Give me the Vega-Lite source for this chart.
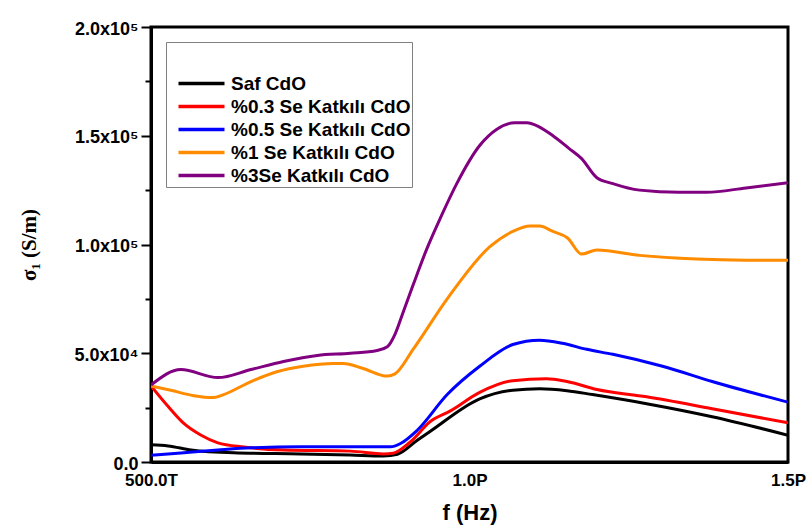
{
  "$schema": "https://vega.github.io/schema/vega-lite/v6.json",
  "width": 637,
  "height": 435,
  "autosize": "none",
  "padding": {"left": 151, "top": 27, "right": 22, "bottom": 68},
  "background": "white",
  "config": {
    "view": {"stroke": "black", "strokeWidth": 3},
    "font": "Liberation Sans"
  },
  "data": {
    "values": [
      {"s": "Saf CdO", "f": 500, "v": 7900},
      {"s": "Saf CdO", "f": 527, "v": 7400},
      {"s": "Saf CdO", "f": 563, "v": 5500},
      {"s": "Saf CdO", "f": 630, "v": 4200},
      {"s": "Saf CdO", "f": 735, "v": 3700},
      {"s": "Saf CdO", "f": 813, "v": 3200},
      {"s": "Saf CdO", "f": 865, "v": 2800},
      {"s": "Saf CdO", "f": 887, "v": 3600},
      {"s": "Saf CdO", "f": 918, "v": 10000},
      {"s": "Saf CdO", "f": 938, "v": 14000},
      {"s": "Saf CdO", "f": 1016, "v": 29000},
      {"s": "Saf CdO", "f": 1068, "v": 33000},
      {"s": "Saf CdO", "f": 1110, "v": 33700},
      {"s": "Saf CdO", "f": 1153, "v": 32800},
      {"s": "Saf CdO", "f": 1193, "v": 31000},
      {"s": "Saf CdO", "f": 1278, "v": 26800},
      {"s": "Saf CdO", "f": 1381, "v": 20800},
      {"s": "Saf CdO", "f": 1500, "v": 12300},

      {"s": "%0.3 Se Katkılı CdO", "f": 500, "v": 35000},
      {"s": "%0.3 Se Katkılı CdO", "f": 527, "v": 25500},
      {"s": "%0.3 Se Katkılı CdO", "f": 552, "v": 17600},
      {"s": "%0.3 Se Katkılı CdO", "f": 578, "v": 12400},
      {"s": "%0.3 Se Katkılı CdO", "f": 605, "v": 8800},
      {"s": "%0.3 Se Katkılı CdO", "f": 646, "v": 6900},
      {"s": "%0.3 Se Katkılı CdO", "f": 708, "v": 5500},
      {"s": "%0.3 Se Katkılı CdO", "f": 813, "v": 5000},
      {"s": "%0.3 Se Katkılı CdO", "f": 865, "v": 3700},
      {"s": "%0.3 Se Katkılı CdO", "f": 880, "v": 4000},
      {"s": "%0.3 Se Katkılı CdO", "f": 907, "v": 9200},
      {"s": "%0.3 Se Katkılı CdO", "f": 938, "v": 18500},
      {"s": "%0.3 Se Katkılı CdO", "f": 970, "v": 23500},
      {"s": "%0.3 Se Katkılı CdO", "f": 1016, "v": 32000},
      {"s": "%0.3 Se Katkılı CdO", "f": 1068, "v": 37400},
      {"s": "%0.3 Se Katkılı CdO", "f": 1121, "v": 38300},
      {"s": "%0.3 Se Katkılı CdO", "f": 1153, "v": 37000},
      {"s": "%0.3 Se Katkılı CdO", "f": 1200, "v": 33300},
      {"s": "%0.3 Se Katkılı CdO", "f": 1278, "v": 30000},
      {"s": "%0.3 Se Katkılı CdO", "f": 1381, "v": 24500},
      {"s": "%0.3 Se Katkılı CdO", "f": 1500, "v": 18000},

      {"s": "%0.5 Se Katkılı CdO", "f": 500, "v": 3100},
      {"s": "%0.5 Se Katkılı CdO", "f": 552, "v": 4300},
      {"s": "%0.5 Se Katkılı CdO", "f": 605, "v": 5500},
      {"s": "%0.5 Se Katkılı CdO", "f": 657, "v": 6500},
      {"s": "%0.5 Se Katkılı CdO", "f": 735, "v": 7000},
      {"s": "%0.5 Se Katkılı CdO", "f": 813, "v": 7000},
      {"s": "%0.5 Se Katkılı CdO", "f": 876, "v": 7000},
      {"s": "%0.5 Se Katkılı CdO", "f": 891, "v": 8400},
      {"s": "%0.5 Se Katkılı CdO", "f": 918, "v": 14600},
      {"s": "%0.5 Se Katkılı CdO", "f": 965, "v": 31000},
      {"s": "%0.5 Se Katkılı CdO", "f": 1016, "v": 44000},
      {"s": "%0.5 Se Katkılı CdO", "f": 1068, "v": 54000},
      {"s": "%0.5 Se Katkılı CdO", "f": 1110, "v": 56000},
      {"s": "%0.5 Se Katkılı CdO", "f": 1146, "v": 54600},
      {"s": "%0.5 Se Katkılı CdO", "f": 1184, "v": 51800},
      {"s": "%0.5 Se Katkılı CdO", "f": 1225, "v": 49500},
      {"s": "%0.5 Se Katkılı CdO", "f": 1303, "v": 44000},
      {"s": "%0.5 Se Katkılı CdO", "f": 1381, "v": 37000},
      {"s": "%0.5 Se Katkılı CdO", "f": 1500, "v": 27500},

      {"s": "%1 Se Katkılı CdO", "f": 500, "v": 35000},
      {"s": "%1 Se Katkılı CdO", "f": 531, "v": 33000},
      {"s": "%1 Se Katkılı CdO", "f": 567, "v": 30500},
      {"s": "%1 Se Katkılı CdO", "f": 597, "v": 29600},
      {"s": "%1 Se Katkılı CdO", "f": 614, "v": 31000},
      {"s": "%1 Se Katkılı CdO", "f": 657, "v": 37000},
      {"s": "%1 Se Katkılı CdO", "f": 699, "v": 41600},
      {"s": "%1 Se Katkılı CdO", "f": 739, "v": 44000},
      {"s": "%1 Se Katkılı CdO", "f": 786, "v": 45300},
      {"s": "%1 Se Katkılı CdO", "f": 802, "v": 45300},
      {"s": "%1 Se Katkılı CdO", "f": 833, "v": 43000},
      {"s": "%1 Se Katkılı CdO", "f": 871, "v": 39500},
      {"s": "%1 Se Katkılı CdO", "f": 883, "v": 40500},
      {"s": "%1 Se Katkılı CdO", "f": 912, "v": 52000},
      {"s": "%1 Se Katkılı CdO", "f": 965, "v": 75000},
      {"s": "%1 Se Katkılı CdO", "f": 1032, "v": 99000},
      {"s": "%1 Se Katkılı CdO", "f": 1068, "v": 106000},
      {"s": "%1 Se Katkılı CdO", "f": 1095, "v": 108500},
      {"s": "%1 Se Katkılı CdO", "f": 1110, "v": 108500},
      {"s": "%1 Se Katkılı CdO", "f": 1131, "v": 106000},
      {"s": "%1 Se Katkılı CdO", "f": 1154, "v": 103000},
      {"s": "%1 Se Katkılı CdO", "f": 1176, "v": 95600},
      {"s": "%1 Se Katkılı CdO", "f": 1200, "v": 97500},
      {"s": "%1 Se Katkılı CdO", "f": 1267, "v": 95000},
      {"s": "%1 Se Katkılı CdO", "f": 1356, "v": 93300},
      {"s": "%1 Se Katkılı CdO", "f": 1434, "v": 92800},
      {"s": "%1 Se Katkılı CdO", "f": 1500, "v": 92800},

      {"s": "%3Se Katkılı CdO", "f": 500, "v": 35400},
      {"s": "%3Se Katkılı CdO", "f": 547, "v": 42500},
      {"s": "%3Se Katkılı CdO", "f": 605, "v": 38800},
      {"s": "%3Se Katkılı CdO", "f": 657, "v": 42500},
      {"s": "%3Se Katkılı CdO", "f": 708, "v": 46200},
      {"s": "%3Se Katkılı CdO", "f": 761, "v": 49000},
      {"s": "%3Se Katkılı CdO", "f": 813, "v": 50000},
      {"s": "%3Se Katkılı CdO", "f": 855, "v": 51300},
      {"s": "%3Se Katkılı CdO", "f": 871, "v": 53000},
      {"s": "%3Se Katkılı CdO", "f": 883, "v": 58700},
      {"s": "%3Se Katkılı CdO", "f": 896, "v": 69000},
      {"s": "%3Se Katkılı CdO", "f": 912, "v": 81800},
      {"s": "%3Se Katkılı CdO", "f": 933, "v": 98000},
      {"s": "%3Se Katkılı CdO", "f": 954, "v": 112000},
      {"s": "%3Se Katkılı CdO", "f": 980, "v": 128000},
      {"s": "%3Se Katkılı CdO", "f": 1016, "v": 145500},
      {"s": "%3Se Katkılı CdO", "f": 1043, "v": 153000},
      {"s": "%3Se Katkılı CdO", "f": 1071, "v": 156000},
      {"s": "%3Se Katkılı CdO", "f": 1090, "v": 156000},
      {"s": "%3Se Katkılı CdO", "f": 1110, "v": 154000},
      {"s": "%3Se Katkılı CdO", "f": 1131, "v": 150000},
      {"s": "%3Se Katkılı CdO", "f": 1157, "v": 144000},
      {"s": "%3Se Katkılı CdO", "f": 1176, "v": 139500},
      {"s": "%3Se Katkılı CdO", "f": 1200, "v": 130700},
      {"s": "%3Se Katkılı CdO", "f": 1225, "v": 128000},
      {"s": "%3Se Katkılı CdO", "f": 1267, "v": 125000},
      {"s": "%3Se Katkılı CdO", "f": 1329, "v": 124000},
      {"s": "%3Se Katkılı CdO", "f": 1372, "v": 124000},
      {"s": "%3Se Katkılı CdO", "f": 1434, "v": 126000},
      {"s": "%3Se Katkılı CdO", "f": 1500, "v": 128400}
    ]
  },
  "mark": {"type": "line", "strokeWidth": 3, "interpolate": "monotone", "clip": true},
  "encoding": {
    "x": {
      "field": "f",
      "type": "quantitative",
      "scale": {"domain": [500, 1500], "nice": false, "zero": false},
      "axis": {
        "values": [500, 1000, 1500],
        "labelExpr": "datum.value == 500 ? '500.0T' : format(datum.value/1000, '.1f') + 'P'",
        "title": "f (Hz)",
        "titleFont": "Liberation Sans",
        "titleFontSize": 22,
        "titleFontWeight": "bold",
        "titlePadding": 14,
        "labelFont": "Liberation Sans",
        "labelFontSize": 17,
        "labelFontWeight": "bold",
        "labelColor": "black",
        "labelPadding": 10,
        "labelFlush": false,
        "ticks": false,
        "domainColor": "black",
        "domainWidth": 3,
        "grid": false
      }
    },
    "y": {
      "field": "v",
      "type": "quantitative",
      "scale": {"domain": [0, 200000], "nice": false},
      "axis": {
        "values": [0, 25000, 50000, 75000, 100000, 125000, 150000, 175000, 200000],
        "labelExpr": "datum.value == 0 ? '0.0' : datum.value == 50000 ? '5.0x10⁴' : datum.value == 100000 ? '1.0x10⁵' : datum.value == 150000 ? '1.5x10⁵' : datum.value == 200000 ? '2.0x10⁵' : ''",
        "title": "σ₁ (S/m)",
        "titleFont": "Liberation Serif",
        "titleFontSize": 21,
        "titleFontWeight": "bold",
        "titlePadding": 35,
        "labelFont": "Liberation Sans",
        "labelFontSize": 18,
        "labelFontWeight": "bold",
        "labelColor": "black",
        "labelPadding": 3,
        "labelBaseline": "middle",
        "labelOffset": 2,
        "tickColor": "black",
        "tickWidth": 2,
        "tickSize": {"condition": {"test": "datum.value % 50000 === 0", "value": 10}, "value": 6},
        "domainColor": "black",
        "domainWidth": 3,
        "grid": false
      }
    },
    "color": {
      "field": "s",
      "type": "nominal",
      "sort": ["Saf CdO", "%0.3 Se Katkılı CdO", "%0.5 Se Katkılı CdO", "%1 Se Katkılı CdO", "%3Se Katkılı CdO"],
      "scale": {
        "domain": ["Saf CdO", "%0.3 Se Katkılı CdO", "%0.5 Se Katkılı CdO", "%1 Se Katkılı CdO", "%3Se Katkılı CdO"],
        "range": ["#000000", "#ff0000", "#0000ff", "#ff8c00", "#800080"]
      },
      "legend": {
        "orient": "none",
        "legendX": 15,
        "legendY": 15,
        "title": " ",
        "titleFontSize": 19,
        "titlePadding": 12,
        "padding": 1,
        "strokeColor": "#808080",
        "fillColor": "white",
        "symbolType": "M0.4,0H9.6",
        "symbolSize": 100,
        "symbolStrokeWidth": 3.5,
        "symbolFillColor": "transparent",
        "labelFont": "Liberation Sans",
        "labelFontSize": 19,
        "labelFontWeight": "bold",
        "labelColor": "black",
        "labelOffset": 45,
        "labelLimit": 400,
        "labelExpr": "datum.label + '\u00a0\u00a0'",
        "rowPadding": 3
      }
    }
  }
}
